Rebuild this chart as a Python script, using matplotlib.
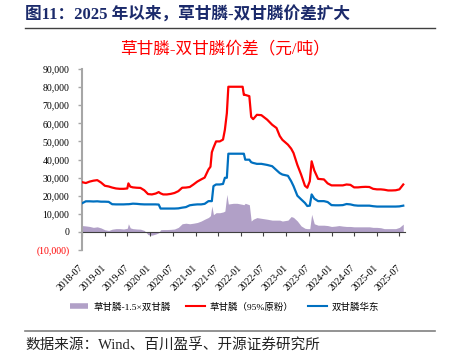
import matplotlib
matplotlib.use("Agg")
import matplotlib.pyplot as plt
import matplotlib.dates as mdates
from matplotlib.lines import Line2D
import pandas as pd

plt.rcParams['font.family'] = ['Liberation Serif', 'Noto Sans CJK SC']

# 数据（从原图读取，元/吨）
dates = [
    "2018-07-01", "2018-08-01", "2018-09-01", "2018-10-01", "2018-11-01", "2018-12-01",
    "2019-01-01", "2019-02-01", "2019-03-01", "2019-04-01", "2019-05-01", "2019-06-01",
    "2019-07-01", "2019-07-10", "2019-07-25", "2019-08-15", "2019-09-15", "2019-10-15",
    "2019-11-15", "2019-12-15", "2020-01-15", "2020-02-15", "2020-03-10", "2020-03-25",
    "2020-04-15", "2020-05-15", "2020-06-15", "2020-07-15", "2020-08-15", "2020-09-15",
    "2020-10-15", "2020-11-15", "2020-12-15", "2021-01-15", "2021-02-15", "2021-03-15",
    "2021-04-15", "2021-05-01", "2021-05-12", "2021-05-25", "2021-06-15", "2021-07-15",
    "2021-08-10", "2021-08-25", "2021-09-10", "2021-09-22", "2021-11-01", "2021-12-01",
    "2022-01-15", "2022-01-25", "2022-02-05", "2022-03-10", "2022-03-25", "2022-04-10",
    "2022-05-10", "2022-06-15", "2022-08-01", "2022-09-10", "2022-10-15", "2022-11-10",
    "2022-12-01", "2023-01-15", "2023-02-10", "2023-03-01", "2023-04-01", "2023-05-01",
    "2023-06-01", "2023-06-20", "2023-07-10", "2023-07-25", "2023-08-15", "2023-09-15",
    "2023-11-01", "2023-12-01", "2024-01-01", "2024-02-01", "2024-03-01", "2024-04-01",
    "2024-05-01", "2024-06-01", "2024-07-01", "2024-08-01", "2024-09-01", "2024-10-01",
    "2024-11-01", "2024-12-01", "2025-01-01", "2025-02-01", "2025-03-01", "2025-04-01",
    "2025-05-01", "2025-06-01", "2025-07-01", "2025-08-01",
]

# 草甘膦（95%原粉）
glyphosate = [
    27500, 27000, 27800, 28300, 28600, 27300,
    25500, 25100, 24500, 24000, 23800, 23800,
    24000, 26800, 25000, 24600, 24400, 24300,
    23000, 20900, 20700, 21200, 22000, 21300,
    20700, 20700, 21000, 21500, 22500, 24400,
    24500, 24800, 26200, 27800, 29000, 30000,
    34500, 36000, 44000, 46500, 50000, 50000,
    51000, 56400, 65600, 80200, 80200, 80200,
    80200, 75700, 75700, 75000, 63500, 62300,
    64700, 64500, 62000, 59200, 57400, 53000,
    50900, 48200, 46000, 43600, 37000, 31700,
    25500, 24400, 28000, 39000, 34000, 29300,
    29000, 26800, 25700, 25700, 25700, 25700,
    26200, 26000, 24600, 24600, 24800, 24900,
    24800, 23800, 23500, 23500, 23300, 22900,
    22900, 23000, 23500, 26200,
]

# 双甘膦华东
glycine = [
    15800, 16900, 16900, 16800, 16900, 16700,
    16700, 16600, 15300, 15200, 15200, 15200,
    15300, 15300, 15400, 15600, 15500, 15300,
    15200, 15200, 15200, 15200, 15100, 12900,
    12900, 12900, 12900, 12900, 13000, 13400,
    13700, 14700, 15000, 15200, 15200, 15500,
    17000, 17000, 17000, 25300, 26200, 26200,
    26500, 29900, 29900, 43200, 43200, 43200,
    43200, 43200, 39900, 39900, 38500, 38100,
    37600, 37600, 37000, 36300, 34100, 32500,
    31700, 31000, 28000, 25300, 20000, 18000,
    16000, 14300, 14500, 20700, 18400, 17000,
    17000, 16500, 14800, 14700, 14700, 14800,
    15400, 15200, 14700, 14500, 14500, 14500,
    14500, 14200, 14000, 14000, 14000, 14000,
    14000, 14000, 14100, 14500,
]

# 草甘膦-1.5×双甘膦
spread = [
    3500, 3300, 3000, 2500, 2800, 2200,
    1200, 800, 1500, 1800, 1800, 1600,
    2000, 4500, 2200, 1800, 1600, 1500,
    800, -1500, -1800, -1200, -500, 1200,
    1300, 1300, 1400, 1600, 2500, 4500,
    4800, 4500, 4800, 5200, 6000, 7000,
    8000, 9000, 14300, 9500, 10600, 10600,
    11000, 11500, 20700, 15400, 15800, 15800,
    15200, 15000, 15800, 15000, 6000, 7000,
    7900, 7500, 7000, 6500, 6500, 6500,
    6000, 6500, 8500, 8000, 6000, 3300,
    2000, 1800, 1800, 9700, 4500, 3700,
    3700, 3500, 3000, 3200, 3500, 3200,
    3000, 3000, 2800, 2800, 2800, 2800,
    2800, 2500, 2500, 2300, 1800, 1800,
    1800, 1800, 2500, 4300,
]

y_ticks = [-10000, 0, 10000, 20000, 30000, 40000, 50000, 60000, 70000, 80000, 90000]
y_labels = ["(10,000)", "0", "10,000", "20,000", "30,000", "40,000",
            "50,000", "60,000", "70,000", "80,000", "90,000"]

names = ["草甘膦-1.5×双甘膦", "草甘膦（95%原粉）", "双甘膦华东"]
colors = ["#B1A0C7", "#FF0000", "#0070C0"]

x = pd.to_datetime(dates)

fig = plt.figure(figsize=(4.49, 3.64), dpi=100)
ax = fig.add_axes([0.1826, 0.3132, 0.7194, 0.4972])

ax.fill_between(x, 0, spread, color=colors[0], lw=0, zorder=1)
ax.plot(x, glyphosate, color=colors[1], lw=1.6, zorder=3)
ax.plot(x, glycine, color=colors[2], lw=1.6, zorder=3)

ax.set_ylim(-10000, 90000)
ax.set_xlim(pd.Timestamp("2018-07-01"), pd.Timestamp("2025-08-15"))
ax.set_yticks(y_ticks, labels=y_labels)
for lbl in ax.get_yticklabels():
    if lbl.get_text().startswith("("):
        lbl.set_color("#FF0000")

ax.xaxis.set_major_locator(mdates.MonthLocator(bymonth=[1, 7]))
ax.xaxis.set_major_formatter(mdates.DateFormatter("%Y-%m"))

ax.spines["top"].set_visible(False)
ax.spines["right"].set_visible(False)
ax.spines["bottom"].set_position(("data", 0))
ax.spines["bottom"].set_color("#404040")
ax.spines["bottom"].set_linewidth(0.8)
ax.spines["bottom"].set_zorder(2)
ax.spines["left"].set_color("#A6A6A6")
ax.spines["left"].set_linewidth(1.5)

ax.tick_params(axis="y", direction="out", length=3, width=1, color="#A6A6A6",
               labelsize=7, pad=6)
ax.tick_params(axis="x", direction="out", length=3, width=0.8, color="#404040",
               labelsize=7, pad=22)

# 图例
handles = [
    Line2D([], [], color=colors[0], lw=4, solid_capstyle="butt"),
    Line2D([], [], color=colors[1], lw=1.5),
    Line2D([], [], color=colors[2], lw=1.5),
]
fig.legend(handles, names, loc="center", bbox_to_anchor=(0.5, 0.157), ncol=3,
           frameon=False, fontsize=6.8, handlelength=2.0, handletextpad=0.5,
           columnspacing=1.6)

# 标题与注释
fig.text(0.056, 0.959, "图11：2025 年以来，草甘膦-双甘膦价差扩大", fontsize=12,
         fontweight="bold", color="#1B2A6B", va="center", ha="left")
fig.add_artist(Line2D([0.056, 0.969], [0.923, 0.923], transform=fig.transFigure,
                      color="#404040", lw=1))
fig.text(0.5, 0.863, "草甘膦-双甘膦价差（元/吨）", fontsize=12, color="#FF0000",
         va="center", ha="center")
fig.add_artist(Line2D([0.056, 0.969], [0.0907, 0.0907], transform=fig.transFigure,
                      color="#808080", lw=1.2))
fig.text(0.056, 0.049, "数据来源：Wind、百川盈孚、开源证券研究所", fontsize=10.5,
         color="#222222", va="center", ha="left")

# 斜放日期标签（需先画一次以生成刻度标签）
fig.canvas.draw()
for lbl in ax.get_xticklabels():
    lbl.set_rotation(45)
    lbl.set_ha("right")
    lbl.set_va("center")
    lbl.set_rotation_mode("anchor")

fig.savefig("out.png", dpi=100)
